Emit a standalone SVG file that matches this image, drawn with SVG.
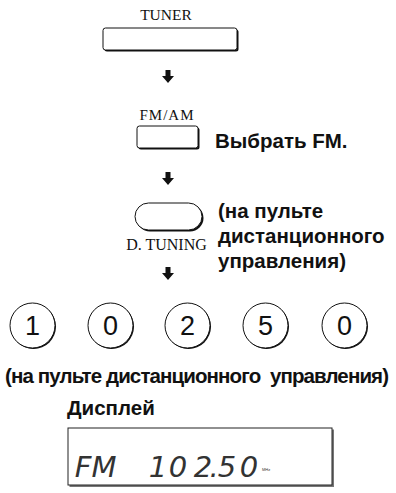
<svg xmlns="http://www.w3.org/2000/svg" width="396" height="493" viewBox="0 0 396 493">
<defs>
<style>
.serif{font-family:"Liberation Serif","Times New Roman",serif;fill:#111}
.bold{font-family:"Liberation Sans",Arial,sans-serif;font-weight:bold;font-size:20.5px;fill:#111}
.digit{font-family:"Liberation Sans",Arial,sans-serif;font-size:27px;fill:#111;text-anchor:middle}
.btn{fill:#fff;stroke:#111;stroke-width:1}
.shadow{fill:#111}
.lcd{font-family:"DejaVu Sans ExtraLight","DejaVu Sans",sans-serif;font-weight:200;font-style:italic;font-size:29px;fill:#333;text-anchor:middle}
.arrow{fill:#111}
</style>
<path id="arr" d="M-2.5,0 H2.5 V6 H6 L0,13 L-6,6 H-2.5 Z"/>
</defs>
<rect width="396" height="493" fill="#fff"/>

<g id="connectors">
<use href="#arr" class="arrow" x="168" y="70"/>
<use href="#arr" class="arrow" x="168" y="172"/>
<use href="#arr" class="arrow" x="168" y="267"/>
</g>

<g id="tuner">
<text class="serif" x="166" y="20" font-size="15.5" text-anchor="middle">TUNER</text>
<rect class="shadow" x="104.5" y="29.5" width="134" height="22" rx="2.5"/>
<rect class="btn" x="103" y="28" width="134" height="22" rx="2.5"/>
</g>

<g id="fmam">
<text class="serif" x="167" y="120" font-size="15" text-anchor="middle" letter-spacing="1">FM/AM</text>
<rect class="shadow" x="138.5" y="127.5" width="61" height="22" rx="2.5"/>
<rect class="btn" x="137" y="126" width="61" height="22" rx="2.5"/>
<text class="bold" x="215" y="148">Выбрать FM.</text>
</g>

<g id="dtuning">
<rect class="shadow" x="136.5" y="204.5" width="67" height="27" rx="13.5"/>
<rect class="btn" x="135" y="203" width="67" height="27" rx="13.5"/>
<text class="serif" x="166.5" y="250" font-size="16" text-anchor="middle">D. TUNING</text>
<text class="bold" x="218" y="218">(на пульте</text>
<text class="bold" x="218" y="243">дистанционного</text>
<text class="bold" x="218" y="268">управления)</text>
</g>

<g id="digits">
<g id="d1"><circle class="shadow" cx="33.5" cy="326.5" r="22.5"/><circle class="btn" cx="32.5" cy="325.5" r="22.5"/><text class="digit" x="32.5" y="335">1</text></g>
<g id="d2"><circle class="shadow" cx="111.5" cy="326.5" r="22.5"/><circle class="btn" cx="110.5" cy="325.5" r="22.5"/><text class="digit" x="110.5" y="335">0</text></g>
<g id="d3"><circle class="shadow" cx="188.5" cy="326.5" r="22.5"/><circle class="btn" cx="187.5" cy="325.5" r="22.5"/><text class="digit" x="187.5" y="335">2</text></g>
<g id="d4"><circle class="shadow" cx="266.5" cy="326.5" r="22.5"/><circle class="btn" cx="265.5" cy="325.5" r="22.5"/><text class="digit" x="265.5" y="335">5</text></g>
<g id="d5"><circle class="shadow" cx="345.5" cy="326.5" r="22.5"/><circle class="btn" cx="344.5" cy="325.5" r="22.5"/><text class="digit" x="344.5" y="335">0</text></g>
<text class="bold" x="5" y="383" font-size="18.5" textLength="384" lengthAdjust="spacing" style="white-space:pre">(на пульте дистанционного  управления)</text>
</g>

<g id="display">
<text class="bold" x="67" y="415" font-size="19">Дисплей</text>
<path d="M333,429.5 V486 H69.5" fill="none" stroke="#777" stroke-width="2"/>
<rect x="68" y="428" width="264" height="57" fill="#fff" stroke="#222" stroke-width="1"/>
<text class="lcd" x="83 104" y="477">FM</text>
<text class="lcd" x="158 178 203 214 227 249" y="477">102.50</text>
<text x="262" y="471" font-family="Liberation Sans,Arial,sans-serif" font-size="4" fill="#333">MHz</text>
</g>
</svg>
